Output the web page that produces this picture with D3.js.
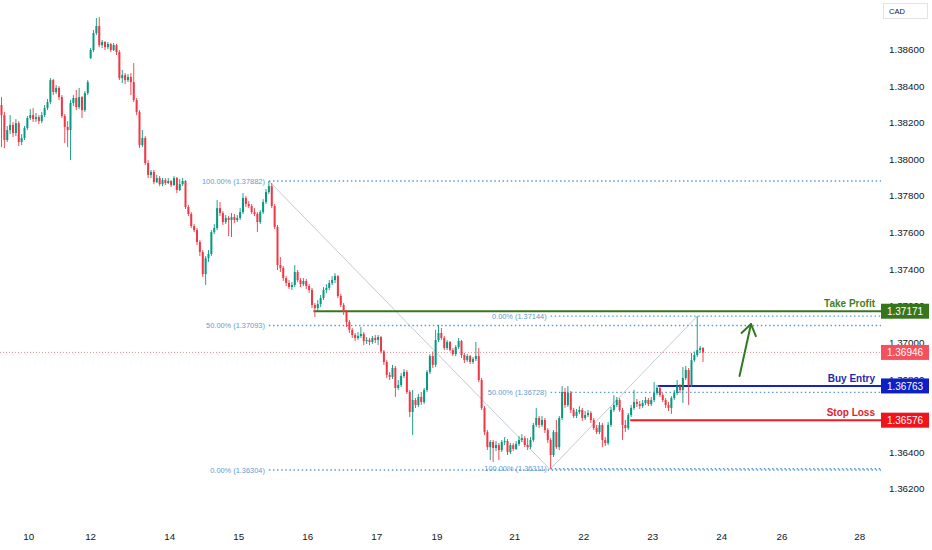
<!DOCTYPE html>
<html>
<head>
<meta charset="utf-8">
<script src="https://cdn.jsdelivr.net/npm/d3@7"></script>
<style>
  html, body { margin: 0; padding: 0; background: #ffffff; }
  svg { display: block; }
  text { font-family: "Liberation Sans", Arial, sans-serif; }
</style>
</head>
<body>
<svg id="chart" width="932" height="550"></svg>
<script>
// ---------- DATA (USD/CAD, 1h candles) ----------
const firstOpen = 1.38297;
const gapOpens = { 31: 1.38553 };   // weekend gap opening

const closes = [
1.38242,1.38106,1.38160,1.38188,1.38144,1.38198,1.38095,1.38117,1.38171,1.38226,
1.38242,1.38220,1.38231,1.38209,1.38242,1.38280,1.38313,1.38433,1.38368,1.38390,
1.38340,1.38237,1.38177,1.38160,1.38308,1.38335,1.38286,1.38340,1.38269,1.38362,
1.38422,1.38597,1.38690,1.38728,1.38624,1.38641,1.38613,1.38630,1.38597,1.38624,
1.38586,1.38444,1.38460,1.38433,1.38450,1.38422,1.38324,1.38259,1.38078,1.38117,
1.37980,1.37915,1.37931,1.37876,1.37898,1.37865,1.37887,1.37871,1.37882,1.37860,
1.37898,1.37833,1.37865,1.37882,1.37740,1.37702,1.37636,1.37614,1.37549,1.37494,
1.37374,1.37461,1.37483,1.37603,1.37625,1.37734,1.37707,1.37658,1.37680,1.37669,
1.37685,1.37669,1.37680,1.37712,1.37789,1.37756,1.37745,1.37712,1.37702,1.37658,
1.37712,1.37767,1.37822,1.37854,1.37745,1.37631,1.37423,1.37407,1.37352,1.37325,
1.37303,1.37314,1.37385,1.37341,1.37319,1.37336,1.37308,1.37287,1.37205,1.37188,
1.37210,1.37243,1.37287,1.37298,1.37325,1.37341,1.37363,1.37254,1.37205,1.37167,
1.37112,1.37069,1.37041,1.37025,1.37036,1.37047,1.37008,1.37014,1.37003,1.37025,
1.37014,1.37030,1.36951,1.36894,1.36823,1.36812,1.36861,1.36752,1.36768,1.36817,
1.36839,1.36730,1.36621,1.36686,1.36659,1.36703,1.36675,1.36741,1.36839,1.36926,
1.36878,1.37014,1.37052,1.37025,1.36970,1.37003,1.36959,1.36937,1.36975,1.37008,
1.36932,1.36904,1.36926,1.36894,1.36910,1.36926,1.36795,1.36643,1.36511,1.36429,
1.36457,1.36424,1.36440,1.36413,1.36457,1.36462,1.36402,1.36440,1.36419,1.36446,
1.36468,1.36478,1.36440,1.36429,1.36468,1.36550,1.36588,1.36550,1.36577,1.36522,
1.36468,1.36386,1.36511,1.36429,1.36588,1.36730,1.36659,1.36724,1.36632,1.36599,
1.36621,1.36632,1.36588,1.36604,1.36615,1.36577,1.36533,1.36511,1.36550,1.36468,
1.36451,1.36550,1.36632,1.36659,1.36686,1.36632,1.36550,1.36533,1.36604,1.36643,
1.36675,1.36664,1.36653,1.36670,1.36686,1.36664,1.36686,1.36724,1.36752,1.36713,
1.36686,1.36659,1.36643,1.36697,1.36724,1.36762,1.36741,1.36806,1.36850,1.36768,
1.36904,1.36932,1.36959,1.36970,1.36946
];

const highs = [
1.38340,1.38259,1.38182,1.38242,1.38204,1.38220,1.38209,1.38138,1.38182,1.38237,
1.38275,1.38280,1.38253,1.38242,1.38259,1.38297,1.38330,1.38444,1.38439,1.38406,
1.38400,1.38351,1.38248,1.38209,1.38324,1.38351,1.38379,1.38390,1.38346,1.38373,
1.38433,1.38608,1.38706,1.38772,1.38777,1.38652,1.38646,1.38641,1.38635,1.38635,
1.38630,1.38597,1.38488,1.38471,1.38466,1.38471,1.38526,1.38335,1.38269,1.38160,
1.38127,1.37996,1.37942,1.37942,1.37915,1.37909,1.37898,1.37898,1.37898,1.37887,
1.37909,1.37904,1.37893,1.37898,1.37887,1.37751,1.37712,1.37647,1.37625,1.37560,
1.37505,1.37472,1.37505,1.37614,1.37647,1.37778,1.37767,1.37718,1.37696,1.37691,
1.37707,1.37702,1.37696,1.37734,1.37816,1.37800,1.37772,1.37756,1.37734,1.37712,
1.37723,1.37783,1.37838,1.37882,1.37871,1.37756,1.37642,1.37467,1.37418,1.37363,
1.37341,1.37330,1.37423,1.37396,1.37352,1.37352,1.37347,1.37319,1.37298,1.37216,
1.37232,1.37259,1.37303,1.37319,1.37341,1.37363,1.37379,1.37368,1.37265,1.37216,
1.37177,1.37123,1.37079,1.37052,1.37057,1.37085,1.37057,1.37030,1.37025,1.37036,
1.37041,1.37041,1.37036,1.36959,1.36904,1.36839,1.36878,1.36872,1.36795,1.36833,
1.36855,1.36850,1.36741,1.36741,1.36697,1.36719,1.36730,1.36752,1.36850,1.36937,
1.36951,1.37069,1.37096,1.37079,1.37036,1.37014,1.37008,1.36970,1.36986,1.37025,
1.37014,1.36943,1.36937,1.36932,1.36921,1.37003,1.36970,1.36806,1.36653,1.36522,
1.36468,1.36468,1.36462,1.36451,1.36468,1.36484,1.36473,1.36451,1.36451,1.36462,
1.36489,1.36500,1.36489,1.36478,1.36484,1.36561,1.36643,1.36599,1.36599,1.36588,
1.36533,1.36478,1.36522,1.36577,1.36599,1.36762,1.36752,1.36762,1.36735,1.36643,
1.36637,1.36653,1.36643,1.36626,1.36632,1.36626,1.36588,1.36550,1.36566,1.36561,
1.36484,1.36566,1.36648,1.36713,1.36703,1.36697,1.36643,1.36577,1.36615,1.36659,
1.36741,1.36692,1.36681,1.36686,1.36703,1.36697,1.36703,1.36784,1.36768,1.36762,
1.36724,1.36697,1.36675,1.36708,1.36741,1.36795,1.36773,1.36866,1.36872,1.36861,
1.36943,1.36951,1.37144,1.36981,1.36975
];

const lows = [
1.38067,1.38062,1.38095,1.38138,1.38122,1.38127,1.38073,1.38078,1.38106,1.38160,
1.38215,1.38204,1.38204,1.38193,1.38198,1.38231,1.38269,1.38302,1.38351,1.38357,
1.38324,1.38226,1.38089,1.38067,1.37996,1.38291,1.38269,1.38275,1.38226,1.38259,
1.38351,1.38548,1.38586,1.38679,1.38613,1.38608,1.38597,1.38602,1.38586,1.38592,
1.38570,1.38433,1.38417,1.38411,1.38422,1.38351,1.38313,1.38242,1.38062,1.38067,
1.37969,1.37898,1.37898,1.37865,1.37871,1.37854,1.37854,1.37860,1.37865,1.37849,
1.37854,1.37816,1.37827,1.37854,1.37729,1.37691,1.37625,1.37603,1.37532,1.37472,
1.37358,1.37314,1.37440,1.37472,1.37592,1.37614,1.37691,1.37642,1.37647,1.37581,
1.37576,1.37652,1.37658,1.37669,1.37702,1.37740,1.37734,1.37702,1.37691,1.37603,
1.37647,1.37702,1.37756,1.37811,1.37734,1.37620,1.37396,1.37385,1.37336,1.37308,
1.37292,1.37287,1.37303,1.37330,1.37303,1.37308,1.37292,1.37270,1.37188,1.37139,
1.37172,1.37194,1.37232,1.37270,1.37287,1.37314,1.37325,1.37243,1.37194,1.37151,
1.37085,1.37052,1.37025,1.37008,1.37014,1.37025,1.36986,1.36992,1.36986,1.36992,
1.36997,1.36986,1.36940,1.36878,1.36806,1.36795,1.36801,1.36703,1.36741,1.36757,
1.36806,1.36719,1.36593,1.36495,1.36643,1.36648,1.36659,1.36664,1.36730,1.36828,
1.36861,1.36866,1.37003,1.37014,1.36959,1.36959,1.36951,1.36926,1.36926,1.36965,
1.36915,1.36888,1.36894,1.36883,1.36883,1.36899,1.36784,1.36632,1.36495,1.36413,
1.36358,1.36348,1.36408,1.36358,1.36402,1.36440,1.36386,1.36391,1.36408,1.36413,
1.36435,1.36457,1.36429,1.36413,1.36419,1.36457,1.36539,1.36533,1.36539,1.36506,
1.36451,1.36311,1.36375,1.36419,1.36413,1.36577,1.36643,1.36648,1.36615,1.36588,
1.36588,1.36610,1.36572,1.36577,1.36593,1.36561,1.36522,1.36500,1.36500,1.36429,
1.36435,1.36440,1.36539,1.36621,1.36648,1.36621,1.36468,1.36511,1.36522,1.36593,
1.36632,1.36648,1.36637,1.36643,1.36659,1.36653,1.36653,1.36675,1.36713,1.36703,
1.36675,1.36643,1.36626,1.36610,1.36686,1.36713,1.36724,1.36670,1.36795,1.36659,
1.36757,1.36894,1.36921,1.36943,1.36894
];

// time axis: day labels and the candle index where each day starts
const dayLabels = ["10","12","14","15","16","17","19","21","22","23","24","26","28"];
const dayIndex  = [9.5, 31, 58.5, 82.5, 106.5, 130.5, 151.5, 178.5, 202.5, 226.5, 250.5, 271.5, 298.5];

// price axis ticks
const priceTicks = [1.362,1.364,1.366,1.368,1.370,1.372,1.374,1.376,1.378,1.380,1.382,1.384,1.386];

// Fibonacci retracements
const fibA = { fromIdx: 93, toIdx: 191, levels: [1.37882, 1.37093, 1.36304], pct: ["100.00%","50.00%","0.00%"] };
const fibB = { fromIdx: 191, toIdx: 242, levels: [1.36311, 1.36728, 1.37144], pct: ["100.00%","50.00%","0.00%"] };

// trade levels
const levelNames  = ["Take Profit", "Buy Entry", "Stop Loss"];
const levelPrices = [1.37171, 1.36763, 1.36576];
const levelStart  = [108.5, 228.4, 218.7];
const levelColors = ["#38761d", "#1423c2", "#ef1b22"];
const levelText   = ["#3f7f22", "#1e2bb0", "#e2232a"];

const lastPrice = 1.36946;
const arrowFrom = { idx: 256.7, price: 1.36817 };
const arrowTo   = { idx: 260.7, price: 1.37101 };

// ---------- CHART ----------
const W = 932, H = 550, plotRight = 881;
const svg = d3.select("#chart");
svg.append("rect").attr("width", W).attr("height", H).attr("fill", "#fff");

const x = d3.scaleLinear().domain([0, 300]).range([1.5, 864]);
const y = d3.scaleLinear().domain([1.36304, 1.37882]).range([470, 181]);

const candles = closes.map((c, i) => {
  const o = i === 0 ? firstOpen : (gapOpens[i] !== undefined ? gapOpens[i] : closes[i - 1]);
  return { i, o, c, h: highs[i], l: lows[i] };
});

const plot = svg.append("g");

// current price dotted line
plot.append("line")
  .attr("x1", 0).attr("x2", plotRight)
  .attr("y1", y(lastPrice)).attr("y2", y(lastPrice))
  .attr("stroke", "#f28b94").attr("stroke-width", 1)
  .attr("stroke-dasharray", "1,2");

// fib trend diagonals
[fibA, fibB].forEach(f => {
  plot.append("line")
    .attr("x1", x(f.fromIdx)).attr("y1", y(f.levels[0]))
    .attr("x2", x(f.toIdx)).attr("y2", y(f.levels[2]))
    .attr("stroke", "#b4bccb").attr("stroke-width", 0.8);
});

// fib dotted levels & labels
const fibColor = "#5b9bd5";
[fibA, fibB].forEach(f => {
  f.levels.forEach((lv, k) => {
    plot.append("line")
      .attr("x1", x(f.fromIdx)).attr("x2", plotRight)
      .attr("y1", y(lv)).attr("y2", y(lv))
      .attr("stroke", fibColor).attr("stroke-width", 1.4)
      .attr("stroke-dasharray", "1.5,2.6");
    plot.append("text")
      .attr("x", x(f.fromIdx) - 4).attr("y", y(lv))
      .attr("dy", "0.35em").attr("text-anchor", "end")
      .attr("font-size", 7.4).attr("fill", fibColor)
      .text(`${f.pct[k]} (${lv.toFixed(5)})`);
  });
});

// trade level lines
levelPrices.forEach((p, k) => {
  plot.append("line")
    .attr("x1", x(levelStart[k])).attr("x2", plotRight)
    .attr("y1", y(p)).attr("y2", y(p))
    .attr("stroke", levelColors[k]).attr("stroke-width", 2);
  plot.append("text")
    .attr("x", 875).attr("y", y(p) - 7.5)
    .attr("dy", "0.35em").attr("text-anchor", "end")
    .attr("font-size", 10).attr("font-weight", "bold")
    .attr("fill", levelText[k])
    .text(levelNames[k]);
});

// candles
const up = "#089981", down = "#f23645";
const cg = plot.append("g");
cg.selectAll("line.wick").data(candles).join("line")
  .attr("class", "wick")
  .attr("x1", d => x(d.i)).attr("x2", d => x(d.i))
  .attr("y1", d => y(d.h)).attr("y2", d => y(d.l))
  .attr("stroke", d => d.c >= d.o ? up : down)
  .attr("stroke-width", 0.9);
cg.selectAll("rect.body").data(candles).join("rect")
  .attr("class", "body")
  .attr("x", d => x(d.i) - 1)
  .attr("width", 2)
  .attr("y", d => y(Math.max(d.o, d.c)))
  .attr("height", d => Math.max(1, Math.abs(y(d.o) - y(d.c))))
  .attr("fill", d => d.c >= d.o ? up : down);

// arrow
const ag = plot.append("g").attr("stroke", "#2f7a1f").attr("stroke-width", 2)
  .attr("fill", "none").attr("stroke-linecap", "round").attr("stroke-linejoin", "round");
const ax1 = x(arrowFrom.idx), ay1 = y(arrowFrom.price), ax2 = x(arrowTo.idx), ay2 = y(arrowTo.price);
ag.append("line").attr("x1", ax1).attr("y1", ay1).attr("x2", ax2).attr("y2", ay2);
const ang = Math.atan2(ay2 - ay1, ax2 - ax1), hl = 13, spread = 0.6;
ag.append("polyline").attr("points", [
  [ax2 - hl * Math.cos(ang - spread), ay2 - hl * Math.sin(ang - spread)],
  [ax2, ay2],
  [ax2 - hl * Math.cos(ang + spread), ay2 - hl * Math.sin(ang + spread)]
].map(p => p.join(",")).join(" "));

// price axis ticks
const axisG = svg.append("g");
axisG.selectAll("text.tick").data(priceTicks).join("text")
  .attr("class", "tick")
  .attr("x", 889).attr("y", d => y(d)).attr("dy", "0.35em")
  .attr("font-size", 9.8).attr("fill", "#131722")
  .text(d => d.toFixed(5));

// price tags
const tags = [
  { p: levelPrices[0], c: "#38761d" },
  { p: lastPrice, c: "#f5505c" },
  { p: levelPrices[1], c: "#0e1fc4" },
  { p: levelPrices[2], c: "#f0141c" }
];
tags.forEach(t => {
  axisG.append("rect")
    .attr("x", 881).attr("y", y(t.p) - 7.5).attr("width", 48).attr("height", 15)
    .attr("fill", t.c);
  axisG.append("text")
    .attr("x", 905).attr("y", y(t.p)).attr("dy", "0.36em")
    .attr("text-anchor", "middle").attr("font-size", 10).attr("fill", "#fff")
    .text(t.p.toFixed(5));
});

// currency box
axisG.append("rect").attr("x", 883.5).attr("y", 3.5).attr("width", 44).attr("height", 15)
  .attr("fill", "#fff").attr("stroke", "#e0e3eb");
axisG.append("text").attr("x", 889).attr("y", 11).attr("dy", "0.35em")
  .attr("font-size", 7.5).attr("fill", "#131722").text("CAD");

// time axis
svg.append("g").selectAll("text").data(dayLabels).join("text")
  .attr("x", (d, k) => x(dayIndex[k])).attr("y", 537).attr("dy", "0.35em")
  .attr("text-anchor", "middle").attr("font-size", 9.8).attr("fill", "#131722")
  .text(d => d);
</script>
</body>
</html>
